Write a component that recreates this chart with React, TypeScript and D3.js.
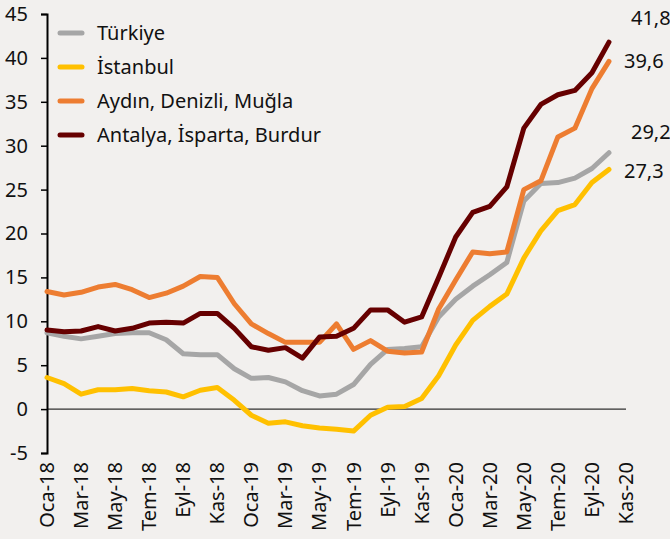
import React, { useEffect, useRef } from "react";
import * as d3 from "d3";

// month names (Turkish) and years on the x axis
const monthNames = ["Oca", "Şub", "Mar", "Nis", "May", "Haz", "Tem", "Ağu", "Eyl", "Eki", "Kas", "Ara"];
const years = ["18", "19", "20"];
// Oca-18 .. Kas-20 (last category has no data)
const months = years.flatMap((y) => monthNames.map((m) => `${m}-${y}`)).slice(0, 35);

const yTicks = [-5, 0, 5, 10, 15, 20, 25, 30, 35, 40, 45];

const turkiye = [
  8.7, 8.3, 8.0, 8.3, 8.6, 8.7, 8.7, 7.9, 6.3, 6.2, 6.2, 4.6, 3.5, 3.6, 3.1, 2.1, 1.5,
  1.7, 2.8, 5.1, 6.8, 6.9, 7.1, 10.5, 12.5, 14.0, 15.3, 16.7, 23.7, 25.7, 25.8, 26.3, 27.4, 29.2,
];
const istanbul = [
  3.6, 2.9, 1.7, 2.2, 2.2, 2.35, 2.1, 1.95, 1.4, 2.15, 2.45, 1.0, -0.7, -1.6, -1.45, -1.9, -2.15,
  -2.3, -2.5, -0.7, 0.2, 0.3, 1.2, 3.8, 7.3, 10.1, 11.7, 13.1, 17.2, 20.3, 22.6, 23.3, 25.8, 27.3,
];
const aydin = [
  13.4, 13.0, 13.3, 13.9, 14.2, 13.6, 12.7, 13.2, 14.0, 15.1, 15.0, 12.0, 9.7, 8.6, 7.6, 7.6, 7.6,
  9.7, 6.8, 7.8, 6.6, 6.4, 6.5, 11.4, 14.7, 17.9, 17.7, 17.9, 25.0, 26.0, 31.0, 32.0, 36.5, 39.6,
];
const antalya = [
  9.0, 8.8, 8.9, 9.4, 8.9, 9.2, 9.8, 9.9, 9.8, 10.9, 10.9, 9.2, 7.1, 6.7, 7.0, 5.8, 8.2,
  8.3, 9.2, 11.3, 11.3, 9.9, 10.5, 15.0, 19.6, 22.4, 23.1, 25.3, 32.0, 34.7, 35.8, 36.3, 38.3, 41.8,
];

const seriesNames = ["Türkiye", "İstanbul", "Aydın, Denizli, Muğla", "Antalya, İsparta, Burdur"];
const seriesValues = [turkiye, istanbul, aydin, antalya];
const seriesColors = ["#a6a6a6", "#ffc000", "#ed7d31", "#660000"];
// end label offsets (dx, dy) so labels do not overlap
const endLabelOffsets = [
  [22, -21],
  [15, 2],
  [15, 0],
  [22, -24],
];

const WIDTH = 670;
const HEIGHT = 539;
const FONT = "'Noto Sans', sans-serif";
const FONT_SIZE = 20;

const LineChart: React.FC = () => {
  const svgRef = useRef<SVGSVGElement | null>(null);

  useEffect(() => {
    const svg = d3.select(svgRef.current);
    svg.selectAll("*").remove();

    svg.append("rect").attr("width", WIDTH).attr("height", HEIGHT).attr("fill", "#f2f0ee");

    const xScale = d3.scalePoint<string>().domain(months).range([47, 626]);
    const yScale = d3.scaleLinear().domain([-5, 45]).range([453, 14]);

    // y axis
    const yAxis = svg
      .append("g")
      .attr("transform", `translate(${xScale(months[0])},0)`)
      .call(d3.axisLeft(yScale).tickValues(yTicks).tickSize(6).tickPadding(13).tickFormat((d) => String(d)));
    yAxis.select(".domain").attr("stroke", "#000").attr("stroke-width", 2);
    yAxis.selectAll(".tick line").attr("stroke", "#000").attr("stroke-width", 1.5);
    yAxis
      .selectAll(".tick text")
      .attr("font-family", FONT)
      .attr("font-size", FONT_SIZE)
      .attr("fill", "#111");

    // zero line
    svg
      .append("line")
      .attr("x1", xScale(months[0]) as number)
      .attr("x2", xScale(months[months.length - 1]) as number)
      .attr("y1", yScale(0))
      .attr("y2", yScale(0))
      .attr("stroke", "#000")
      .attr("stroke-width", 1);

    // x labels, every second month, rotated
    svg
      .append("g")
      .selectAll("text")
      .data(months.filter((_, i) => i % 2 === 0))
      .enter()
      .append("text")
      .attr("transform", (d) => `translate(${(xScale(d) as number) + 7},${yScale(-5) + 9}) rotate(-90)`)
      .attr("text-anchor", "end")
      .attr("font-family", FONT)
      .attr("font-size", FONT_SIZE)
      .attr("fill", "#111")
      .text((d) => d);

    // lines
    const line = d3
      .line<number>()
      .x((_, i) => xScale(months[i]) as number)
      .y((d) => yScale(d));

    seriesValues.forEach((vals, s) => {
      svg
        .append("path")
        .datum(vals)
        .attr("d", line)
        .attr("fill", "none")
        .attr("stroke", seriesColors[s])
        .attr("stroke-width", 5)
        .attr("stroke-linejoin", "round")
        .attr("stroke-linecap", "round");

      const last = vals.length - 1;
      svg
        .append("text")
        .attr("x", (xScale(months[last]) as number) + endLabelOffsets[s][0])
        .attr("y", yScale(vals[last]) + endLabelOffsets[s][1])
        .attr("dy", "0.35em")
        .attr("font-family", FONT)
        .attr("font-size", FONT_SIZE)
        .attr("fill", "#111")
        .text(d3.format(".1f")(vals[last]).replace(".", ","));
    });

    // legend
    const legend = svg.append("g").attr("transform", "translate(60,33)");
    seriesNames.forEach((name, s) => {
      const row = legend.append("g").attr("transform", `translate(0,${s * 34})`);
      row
        .append("line")
        .attr("x1", 0)
        .attr("x2", 22)
        .attr("stroke", seriesColors[s])
        .attr("stroke-width", 5)
        .attr("stroke-linecap", "round");
      row
        .append("text")
        .attr("x", 37)
        .attr("dy", "0.35em")
        .attr("font-family", FONT)
        .attr("font-size", FONT_SIZE)
        .attr("fill", "#111")
        .text(name);
    });
  }, []);

  return <svg ref={svgRef} width={WIDTH} height={HEIGHT} style={{ display: "block" }} />;
};

export default function App() {
  return (
    <div style={{ position: "absolute", left: 0, top: 0 }}>
      <LineChart />
    </div>
  );
}
